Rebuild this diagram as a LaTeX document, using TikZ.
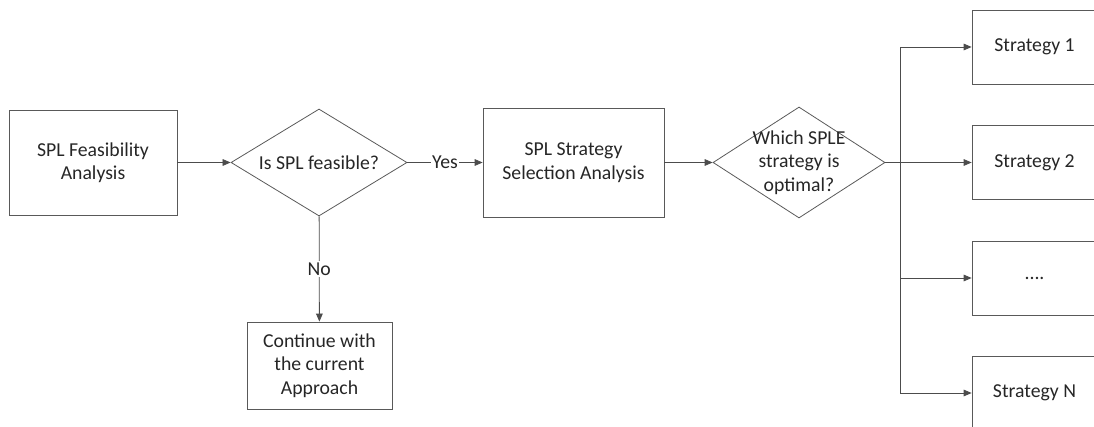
\documentclass[tikz,border=0pt]{standalone}
\usepackage{fontspec}
\setmainfont{Carlito}
\usetikzlibrary{shapes.geometric,arrows.meta}

\begin{document}
\begin{tikzpicture}[
			x=0.75pt, y=-0.75pt,
			every node/.style={
					align=center,
					font=\fontsize{14.8}{17.6}\selectfont,
					text=black!85
				},
			box/.style={
					draw=black!65,
					line width=0.6pt,
					rectangle,
					inner sep=2pt
				},
			choice/.style={
					draw=black!65,
					line width=0.6pt,
					diamond,
					inner sep=0pt
				},
			link/.style={
					draw=black!70,
					line width=0.6pt,
					-{Triangle[length=6pt,width=5pt]}
				},
			tag/.style={fill=white, inner sep=1pt}
		]
		\useasboundingbox (0,0) rectangle (1094,427);

		% etape 1
		\node[box, minimum width=126pt, minimum height=78.75pt] (feas) at (93,162.5) {SPL Feasibility \\ Analysis};
		\node[choice, minimum width=132pt, minimum height=80.25pt] (isfeas) at (319,162.5) {};
		\node (isfeastxt) at (319,162.5) {Is SPL feasible?};
		\node[box, minimum width=108.75pt, minimum height=65.25pt] (keep) at (319.5,365.5) {Continue with \\ the current \\ Approach};

		% etape 2
		\node[box, minimum width=135.75pt, minimum height=81.75pt] (select) at (573.5,162.5) {SPL Strategy \\ Selection Analysis};
		\node[choice, minimum width=129pt, minimum height=83.25pt] (optimal) at (799,162.5) {};
		\node (optimaltxt) at (799,162.5) {Which SPLE \\ strategy is \\ optimal?};

		% strategies
		\node[box, minimum width=93.75pt, minimum height=55.5pt] (strat1) at (1034.5,47) {Strategy 1};
		\node[box, minimum width=93.75pt, minimum height=55.5pt] (strat2) at (1034.5,162.5) {Strategy 2};
		\node[box, minimum width=93.75pt, minimum height=55.5pt] (strat3) at (1034.5,278) {....};
		\node[box, minimum width=93.75pt, minimum height=55.5pt] (stratN) at (1034.5,393) {Strategy N};
		\coordinate (fork) at (900,162.5);

		\draw[link] (feas) -- (isfeas);
		\draw[link] (isfeas) -- node[tag] {Yes} (select);
		\draw[link] (isfeas) -- node[tag] {No} (keep);
		\draw[link] (select) -- (optimal);
		\draw[link] (optimal.east) -- (strat2);
		\draw[link] (fork) |- (strat1);
		\draw[link] (fork) |- (strat3);
		\draw[link] (fork) |- (stratN);
	\end{tikzpicture}
\end{document}
